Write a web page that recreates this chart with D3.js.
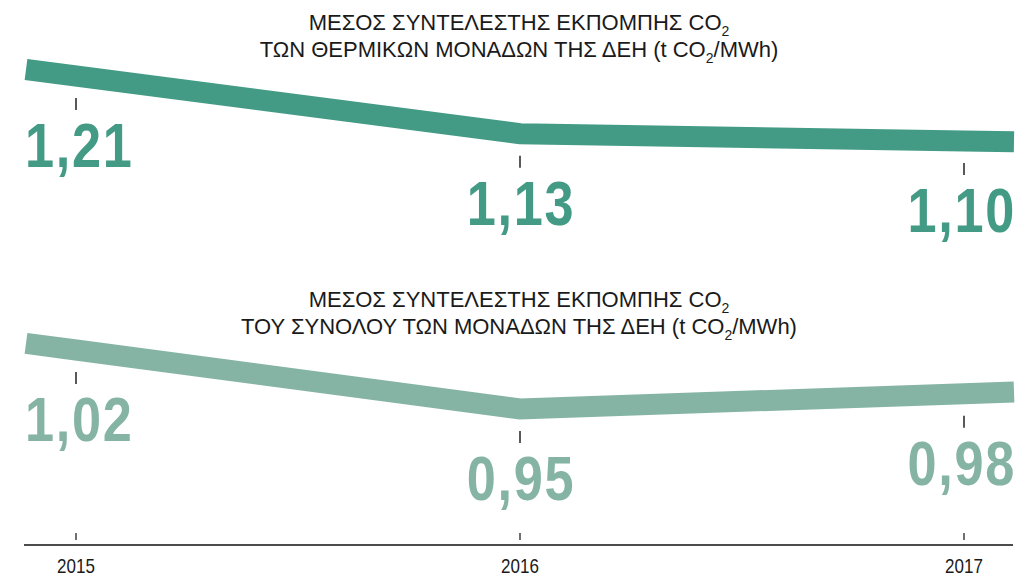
<!DOCTYPE html>
<html>
<head>
<meta charset="utf-8">
<script src="https://cdn.jsdelivr.net/npm/d3@7"></script>
<style>
  body { margin: 0; background: #fff; }
  text { font-family: "Liberation Sans", Arial, sans-serif; }
</style>
</head>
<body>
<svg id="chart" width="1030" height="578"></svg>
<script>
const years = [2015, 2016, 2017]
const thermalValues = [1.21, 1.13, 1.10]
const totalValues = [1.02, 0.95, 0.98]
const yearLabels = ["2015", "2016", "2017"]
const thermalTitle = ["ΜΕΣΟΣ ΣΥΝΤΕΛΕΣΤΗΣ ΕΚΠΟΜΠΗΣ CO|2|", "ΤΩΝ ΘΕΡΜΙΚΩΝ ΜΟΝΑΔΩΝ ΤΗΣ ΔΕΗ (t CO|2|/MWh)"]
const totalTitle = ["ΜΕΣΟΣ ΣΥΝΤΕΛΕΣΤΗΣ ΕΚΠΟΜΠΗΣ CO|2|", "ΤΟΥ ΣΥΝΟΛΟΥ ΤΩΝ ΜΟΝΑΔΩΝ ΤΗΣ ΔΕΗ (t CO|2|/MWh)"]

const svg = d3.select("#chart")
const x = d3.scaleLinear().domain([2015, 2017]).range([76, 964])
const overhang = 50
const squeeze = 0.83 // no condensed bold installed, squeeze the numbers instead
const fmt = (v) => d3.format(".2f")(v).replace(".", ",")

// the original spacing is far from linear, a steep power scale follows it
const panels = [
  { values: thermalValues, title: thermalTitle, color: "#439b85", titleY: 30,
    y: d3.scalePow().exponent(22).domain([1.10, 1.21]).range([141, 76]) },
  { values: totalValues, title: totalTitle, color: "#85b4a5", titleY: 307,
    y: d3.scalePow().exponent(22).domain([0.95, 1.02]).range([409, 350]) }
]

panels.forEach((p) => {
  const g = svg.append("g")

  // title, "|2|" marks a subscript
  p.title.forEach((line, li) => {
    const t = g.append("text")
      .attr("x", 519)
      .attr("y", p.titleY + li * 27)
      .attr("text-anchor", "middle")
      .style("font-size", "22px")
      .style("fill", "#1a1a1a")
    line.split("|").forEach((part, i) => {
      const s = t.append("tspan").text(part)
      if (i % 2 == 1) s.attr("dy", 6).style("font-size", "14px")
      else if (i > 0) s.attr("dy", -6)
    })
  })

  const pts = years.map((yr, i) => [x(yr), p.y(p.values[i])])
  // extend first and last segment past the outer years
  const n = pts.length
  const s0 = (pts[1][1] - pts[0][1]) / (pts[1][0] - pts[0][0])
  const s1 = (pts[n - 1][1] - pts[n - 2][1]) / (pts[n - 1][0] - pts[n - 2][0])
  const line = [[pts[0][0] - overhang, pts[0][1] - s0 * overhang], ...pts,
    [pts[n - 1][0] + overhang, pts[n - 1][1] + s1 * overhang]]

  g.append("path")
    .attr("d", d3.line()(line))
    .attr("fill", "none")
    .attr("stroke", p.color)
    .attr("stroke-width", 21)
    .attr("stroke-linejoin", "miter")

  g.selectAll("line.mark")
    .data(pts)
    .enter()
    .append("line")
    .attr("class", "mark")
    .attr("x1", (d) => d[0])
    .attr("x2", (d) => d[0])
    .attr("y1", (d) => d[1] + 22)
    .attr("y2", (d) => d[1] + 34)
    .attr("stroke", "#222")
    .attr("stroke-width", 1.5)

  g.selectAll("text.value")
    .data(pts)
    .enter()
    .append("text")
    .attr("class", "value")
    .attr("transform", (d, i) => {
      const tx = i == 0 ? line[0][0] - 1 : i == n - 1 ? line[n + 1][0] + 2 : d[0] + 1
      return `translate(${tx},${d[1] + 91}) scale(${squeeze},1)`
    })
    .attr("text-anchor", (d, i) => i == 0 ? "start" : i == n - 1 ? "end" : "middle")
    .style("font-size", "63px")
    .style("font-weight", "bold")
    .style("letter-spacing", "2px")
    .style("fill", p.color)
    .text((d, i) => fmt(p.values[i]))
})

// bottom axis
const axis = svg.append("g")
axis.append("line")
  .attr("x1", x(2015) - 52)
  .attr("x2", x(2017) + 49)
  .attr("y1", 545)
  .attr("y2", 545)
  .attr("stroke", "#111")
  .attr("stroke-width", 1.5)
axis.selectAll("line.tick")
  .data(years)
  .enter()
  .append("line")
  .attr("class", "tick")
  .attr("x1", (d) => x(d))
  .attr("x2", (d) => x(d))
  .attr("y1", 533)
  .attr("y2", 540)
  .attr("stroke", "#222")
  .attr("stroke-width", 1.3)
axis.selectAll("text.year")
  .data(years)
  .enter()
  .append("text")
  .attr("class", "year")
  .attr("transform", (d) => `translate(${x(d)},573) scale(0.85,1)`)
  .attr("text-anchor", "middle")
  .style("font-size", "20px")
  .style("fill", "#1a1a1a")
  .text((d, i) => yearLabels[i])
</script>
</body>
</html>
